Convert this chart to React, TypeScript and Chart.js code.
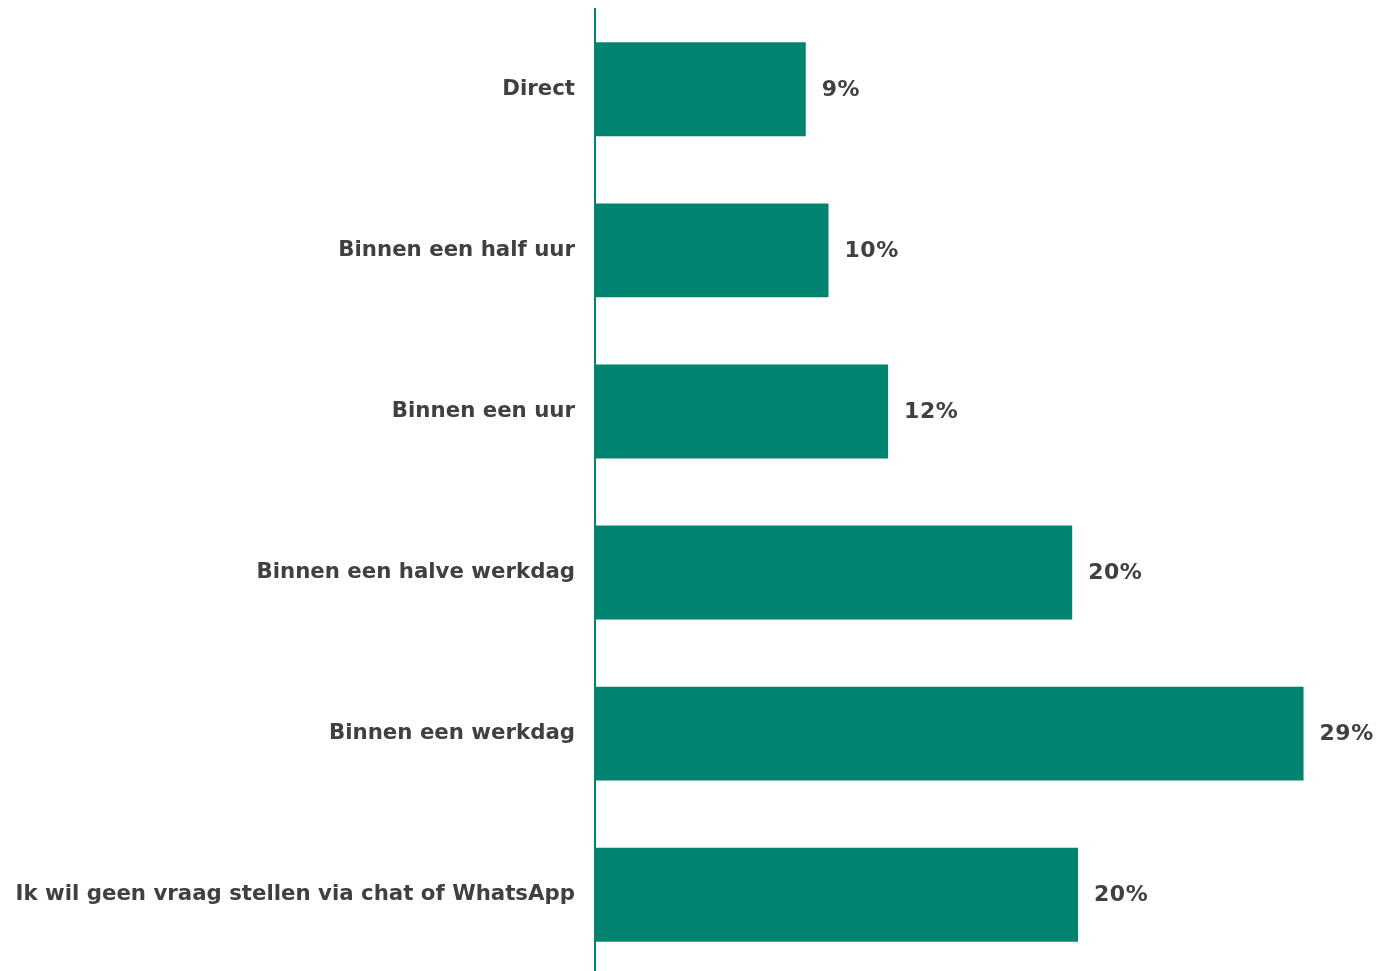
import React, { useEffect, useRef } from "react";
import { Chart, registerables } from "chart.js";

Chart.register(...registerables);

const categories = [
  "Direct",
  "Binnen een half uur",
  "Binnen een uur",
  "Binnen een halve werkdag",
  "Binnen een werkdag",
  "Ik wil geen vraag stellen via chat of WhatsApp",
];
const values = [8.7, 9.64, 12.1, 19.7, 29.25, 19.94];
const valueLabels = ["9%", "10%", "12%", "20%", "29%", "20%"];

const GREEN = "#00846F";
const TEXT = "#404040";
const FONT = "'DejaVu Sans', Verdana, sans-serif";

const valueLabelPlugin = {
  id: "valueLabels",
  afterDraw(chart: any) {
    const ctx = chart.ctx;
    const meta = chart.getDatasetMeta(0);
    ctx.save();
    ctx.font = `bold 22px ${FONT}`;
    (ctx as any).letterSpacing = "0.5px";
    ctx.fillStyle = TEXT;
    ctx.textAlign = "left";
    ctx.textBaseline = "middle";
    meta.data.forEach((bar: any, i: number) => {
      ctx.fillText(valueLabels[i], bar.x + 16, bar.y + 1);
    });
    ctx.restore();
  },
};

export default function App() {
  const ref = useRef<HTMLCanvasElement>(null);
  useEffect(() => {
    if (!ref.current) return;
    const chart = new Chart(ref.current, {
      type: "bar",
      data: {
        labels: categories,
        datasets: [
          {
            data: values,
            backgroundColor: GREEN,
            barPercentage: 0.583,
            categoryPercentage: 1,
          },
        ],
      },
      options: {
        indexAxis: "y",
        animation: false,
        responsive: false,
        maintainAspectRatio: false,
        layout: { padding: { left: 0, top: 0, bottom: 0, right: 0 } },
        plugins: {
          legend: { display: false },
          tooltip: { enabled: false },
        },
        scales: {
          x: {
            display: false,
            min: 0,
            max: 32.2,
          },
          y: {
            afterFit(scale: any) {
              scale.width = 587;
            },
            grid: { display: false, drawTicks: false },
            border: { display: true, color: GREEN, width: 2 },
            ticks: {
              padding: 20,
              color: TEXT,
              font: { family: FONT, size: 21.3, weight: "bold" },
            },
          },
        },
      },
      plugins: [valueLabelPlugin],
    });
    return () => chart.destroy();
  }, []);
  return (
    <div
      style={{
        width: 1367,
        height: 963,
        overflow: "hidden",
        position: "relative",
      }}
    >
      <canvas
        ref={ref}
        width={1367}
        height={1032}
        style={{ display: "block", position: "absolute", left: 0, top: -32, width: 1367, height: 1032 }}
      />
    </div>
  );
}
